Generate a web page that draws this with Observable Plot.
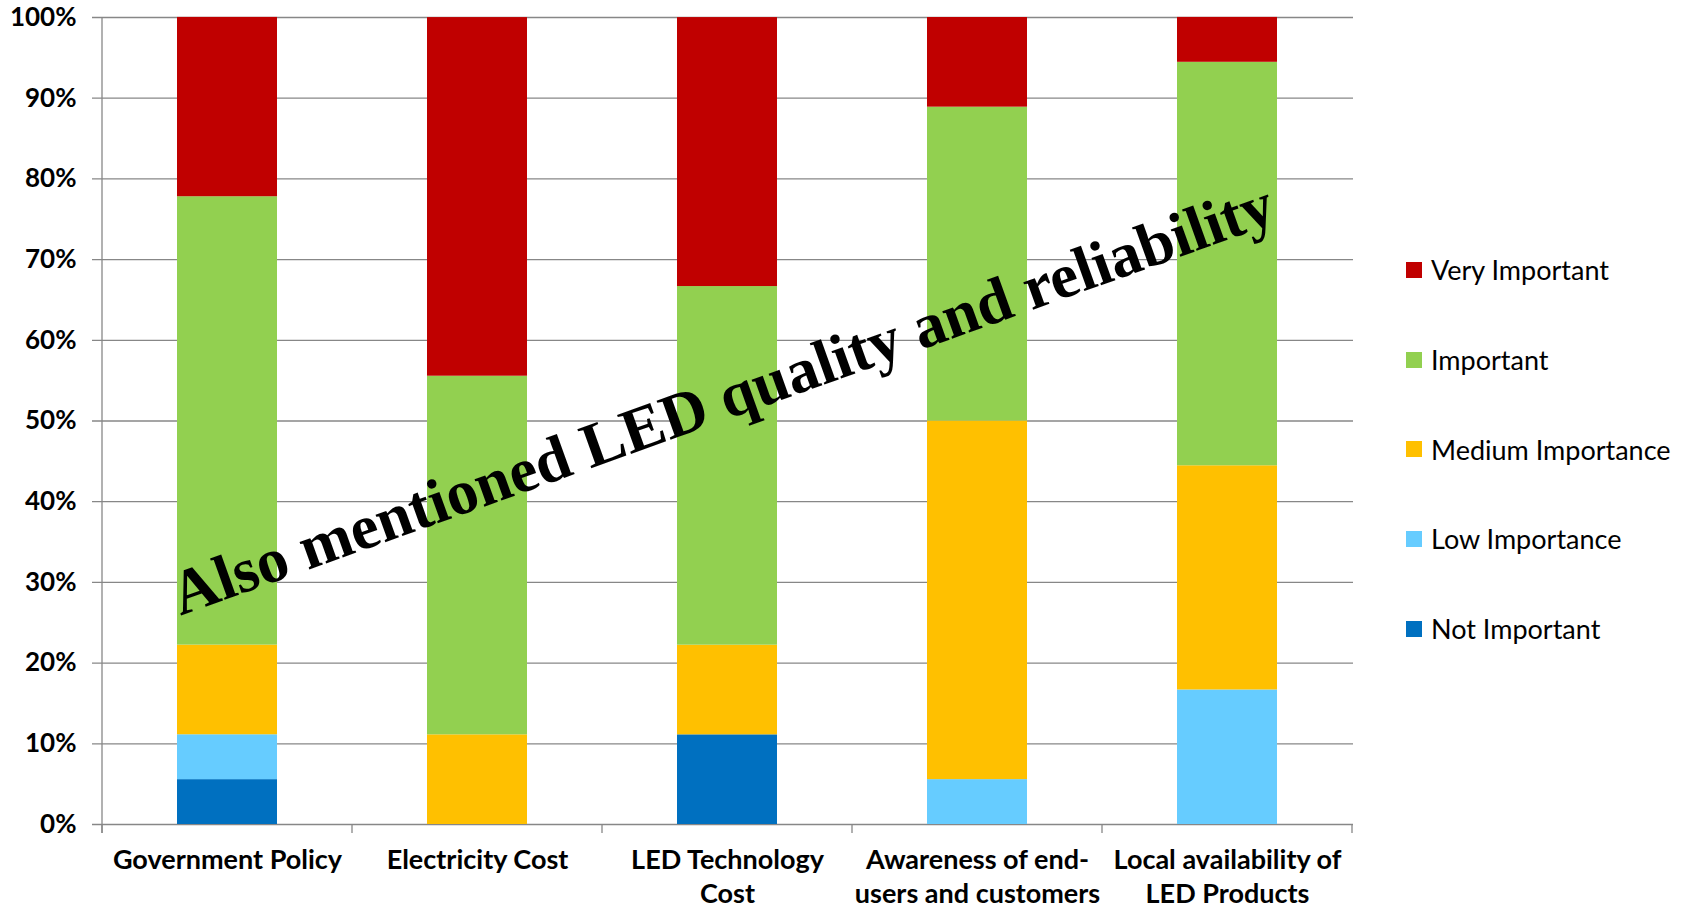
<!DOCTYPE html>
<html><head><meta charset="utf-8">
<script src="https://cdn.jsdelivr.net/npm/d3@7"></script>
<script src="https://cdn.jsdelivr.net/npm/@observablehq/plot@0.6"></script>
<style>
html,body{margin:0;padding:0;background:#fff;}
#wrap{position:relative;width:1693px;height:911px;overflow:hidden;background:#fff;}
#legend{position:absolute;left:1406px;top:225px;font-family:Lato,sans-serif;font-size:27px;color:#000;}
#legend .item{display:flex;align-items:center;height:89.7px;white-space:nowrap;}
#legend .sw{width:16px;height:16px;margin-right:9px;flex:none;}
</style></head><body><div id="wrap"></div>
<script>
const categories = ["Government Policy","Electricity Cost","LED Technology Cost","Awareness of end-users and customers","Local availability of LED Products"];
const tickLabels = ["Government Policy","Electricity Cost","LED Technology\nCost","Awareness of end-\nusers and customers","Local availability of\nLED Products"];
const levels = ["Not Important","Low Importance","Medium Importance","Important","Very Important"];
const colors = ["#0070C0","#66CCFF","#FFC000","#92D050","#C00000"];
const notImportant     = [5.56, 0, 11.11, 0, 0];
const lowImportance    = [5.56, 0, 0, 5.56, 16.67];
const mediumImportance = [11.11, 11.11, 11.11, 44.44, 27.78];
const important        = [55.56, 44.44, 44.44, 38.89, 50.00];
const veryImportant    = [22.22, 44.44, 33.33, 11.11, 5.56];
const yTicks = [0,10,20,30,40,50,60,70,80,90,100];
const note = "Also mentioned LED quality and reliability";

const series = [notImportant, lowImportance, mediumImportance, important, veryImportant];
const rows = [];
categories.forEach((c, i) => {
  series.forEach((s, k) => { if (s[i] > 0) rows.push({category: c, level: levels[k], value: s[i]}); });
});

const gray = "#878787";
const plot = Plot.plot({
  width: 1693, height: 911,
  marginLeft: 100, marginRight: 340, marginTop: 17, marginBottom: 87,
  style: {fontFamily: "Lato, sans-serif", background: "#fff", color: "#000"},
  x: {domain: categories, paddingInner: 0.6, paddingOuter: 0.3, label: null},
  y: {domain: [0, 100], label: null},
  color: {domain: levels, range: colors},
  marks: [
    Plot.ruleY(yTicks, {stroke: gray, strokeWidth: 1.3, insetLeft: -8}),
    Plot.barY(rows, {x: "category", y: "value", fill: "level"}),
    Plot.axisY(yTicks, {tickSize: 0, tickPadding: 24, tickFormat: d => d + "%", fontSize: 26, fontWeight: "bold", label: null}),
    Plot.axisX({tickSize: 0, tickPadding: 20, tickFormat: d => tickLabels[categories.indexOf(d)], fontSize: 27, fontWeight: "bold", lineHeight: 1.27, label: null}),
    Plot.text([note], {frameAnchor: "middle", text: d => d, rotate: -19.75, dx: -4.5, dy: -21.4, fontSize: 63.2, fontFamily: "Liberation Serif, serif", fontWeight: "bold", fill: "#000"})
  ]
});

// axis lines and category boundary ticks from the library's scales
const sx = plot.scale("x"), sy = plot.scale("y");
const svg = d3.select(plot);
const yb = sy.apply(0), yt = sy.apply(100);
const half = (sx.step - sx.bandwidth) / 2;
const bounds = categories.map(c => sx.apply(c) - half);
bounds.push(sx.apply(categories[categories.length - 1]) + sx.bandwidth + half);
const g = svg.append("g").attr("stroke", gray).attr("stroke-width", 1.3);
g.append("line").attr("x1", bounds[0]).attr("x2", bounds[0]).attr("y1", yt).attr("y2", yb + 9);
bounds.forEach(x => g.append("line").attr("x1", x).attr("x2", x).attr("y1", yb).attr("y2", yb + 9));
// keep annotation on top
svg.selectAll("g[aria-label='text']").raise();

const wrap = document.getElementById("wrap");
wrap.appendChild(plot);
const legend = document.createElement("div");
legend.id = "legend";
levels.slice().reverse().forEach(l => {
  const it = document.createElement("div"); it.className = "item";
  const sw = document.createElement("span"); sw.className = "sw"; sw.style.background = colors[levels.indexOf(l)];
  const tx = document.createElement("span"); tx.textContent = l;
  it.appendChild(sw); it.appendChild(tx); legend.appendChild(it);
});
wrap.appendChild(legend);
</script></body></html>
